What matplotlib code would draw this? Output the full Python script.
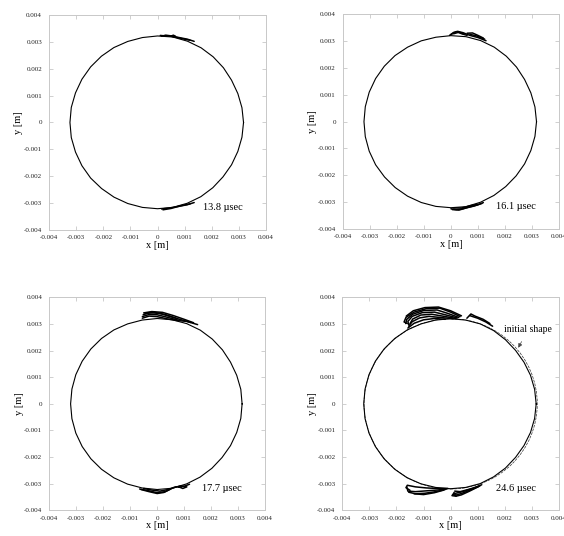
import numpy as np
import matplotlib.pyplot as plt
from matplotlib.patches import Circle

plt.rcParams['font.family'] = ['Liberation Serif', 'DejaVu Serif']

# Bubble outline: radius [mm] sampled every 10 degrees, counter-clockwise from +x
ANGLES_DEG = np.arange(0, 360, 10)

R_138 = [3.17, 3.16, 3.15, 3.15, 3.17, 3.19, 3.21, 3.22, 3.23, 3.22, 3.21, 3.21,
         3.22, 3.22, 3.22, 3.22, 3.22, 3.23, 3.23, 3.23, 3.22, 3.22, 3.22, 3.21,
         3.21, 3.21, 3.21, 3.21, 3.21, 3.20, 3.19, 3.17, 3.15, 3.15, 3.15, 3.16]
R_161 = [3.17, 3.16, 3.15, 3.15, 3.17, 3.19, 3.21, 3.22, 3.22, 3.21, 3.20, 3.21,
         3.21, 3.22, 3.22, 3.22, 3.22, 3.22, 3.22, 3.22, 3.22, 3.22, 3.21, 3.21,
         3.21, 3.21, 3.21, 3.21, 3.22, 3.20, 3.18, 3.16, 3.15, 3.15, 3.15, 3.16]
R_177 = [3.15, 3.15, 3.14, 3.14, 3.16, 3.18, 3.20, 3.21, 3.21, 3.21, 3.20, 3.20,
         3.21, 3.21, 3.21, 3.21, 3.21, 3.21, 3.21, 3.21, 3.21, 3.21, 3.21, 3.21,
         3.21, 3.21, 3.21, 3.22, 3.22, 3.20, 3.18, 3.16, 3.14, 3.14, 3.14, 3.15]
R_246 = [3.16, 3.15, 3.14, 3.13, 3.13, 3.15, 3.18, 3.20, 3.20, 3.20, 3.20, 3.20,
         3.21, 3.21, 3.21, 3.21, 3.21, 3.21, 3.21, 3.21, 3.21, 3.21, 3.21, 3.21,
         3.21, 3.20, 3.19, 3.19, 3.19, 3.19, 3.17, 3.15, 3.13, 3.13, 3.14, 3.15]

# Jet filaments near the poles: (x [mm], y [mm]) polylines
JETS_138 = [
    ([0.10, 0.30, 0.55, 0.85, 1.10, 1.35], [3.24, 3.22, 3.21, 3.15, 3.10, 3.02]),
    ([0.15, 0.30, 0.45, 0.60, 0.90, 1.20], [3.21, 3.25, 3.23, 3.19, 3.12, 3.06]),
    ([0.50, 0.58, 0.66, 0.60, 0.50], [3.21, 3.25, 3.21, 3.18, 3.21]),
    ([0.15, 0.45, 0.80, 1.10, 1.35], [-3.22, -3.18, -3.12, -3.06, -2.98]),
    ([0.20, 0.50, 0.85, 1.20], [-3.25, -3.20, -3.10, -3.03]),
]
JETS_161 = [
    ([-0.05, 0.10, 0.25, 0.45, 0.70, 1.00, 1.30], [3.22, 3.33, 3.37, 3.32, 3.22, 3.14, 3.02]),
    ([0.00, 0.20, 0.40, 0.60], [3.25, 3.36, 3.28, 3.22]),
    ([0.10, 0.30, 0.50], [3.28, 3.34, 3.26]),
    ([0.60, 0.80, 1.00, 1.20], [3.30, 3.31, 3.22, 3.12]),
    ([0.70, 0.95, 1.25], [3.26, 3.20, 3.08]),
    ([0.00, 0.20, 0.45, 0.70, 1.00, 1.20], [-3.25, -3.28, -3.25, -3.18, -3.10, -3.02]),
    ([0.05, 0.30, 0.55, 0.85, 1.15], [-3.28, -3.30, -3.22, -3.15, -3.05]),
    ([0.10, 0.40, 0.70, 1.00], [-3.22, -3.22, -3.14, -3.08]),
]
JETS_177 = [
    ([-0.50, -0.20, 0.20, 0.60, 1.00, 1.35], [3.42, 3.47, 3.44, 3.32, 3.18, 3.05]),
    ([-0.52, -0.30, 0.10, 0.50, 0.90, 1.25], [3.35, 3.43, 3.40, 3.28, 3.16, 3.06]),
    ([-0.55, -0.30, 0.00, 0.40, 0.80], [3.28, 3.36, 3.35, 3.25, 3.14]),
    ([-0.55, -0.30, 0.00, 0.35, 0.70, 1.10, 1.50], [3.22, 3.30, 3.28, 3.20, 3.14, 3.10, 2.98]),
    ([-0.45, -0.10, 0.30, 0.70], [3.39, 3.44, 3.36, 3.22]),
    ([-0.65, -0.30, 0.00, 0.30, 0.60, 0.90], [-3.20, -3.27, -3.34, -3.30, -3.15, -3.08]),
    ([-0.60, -0.30, 0.00, 0.25, 0.50], [-3.22, -3.30, -3.37, -3.33, -3.20]),
    ([-0.50, -0.20, 0.10, 0.40, 0.70, 1.00, 1.20], [-3.18, -3.24, -3.28, -3.22, -3.12, -3.10, -3.02]),
    ([0.80, 0.95, 1.10, 0.95, 0.80], [-3.12, -3.18, -3.12, -3.09, -3.12]),
]
JETS_246 = [
    ([0.35, 0.00, -0.40, -0.90, -1.35, -1.65, -1.72, -1.60],
     [3.28, 3.45, 3.60, 3.58, 3.45, 3.25, 3.08, 3.02]),
    ([0.30, -0.10, -0.50, -1.00, -1.40, -1.62, -1.66],
     [3.25, 3.40, 3.53, 3.51, 3.37, 3.18, 3.02]),
    ([0.25, -0.20, -0.60, -1.05, -1.42, -1.58, -1.55],
     [3.23, 3.35, 3.45, 3.43, 3.29, 3.10, 2.98]),
    ([0.20, -0.30, -0.70, -1.10, -1.40, -1.50],
     [3.21, 3.30, 3.37, 3.34, 3.19, 3.02]),
    ([0.10, -0.40, -0.80, -1.15, -1.42, -1.55],
     [3.20, 3.25, 3.29, 3.23, 3.09, 2.92]),
    ([-0.20, -0.60, -1.00, -1.35, -1.58],
     [3.18, 3.21, 3.16, 3.03, 2.85]),
    ([0.40, 0.00, -0.45, -0.95, -1.38, -1.64],
     [3.31, 3.50, 3.64, 3.62, 3.50, 3.30]),
    ([0.60, 0.75, 0.90, 1.20, 1.45], [3.22, 3.38, 3.30, 3.18, 3.02]),
    ([0.70, 1.00, 1.30, 1.55], [3.32, 3.22, 3.08, 2.92]),
    ([-0.10, -0.50, -0.90, -1.30, -1.60, -1.65, -1.50],
     [-3.18, -3.18, -3.16, -3.12, -3.06, -3.15, -3.25]),
    ([-0.15, -0.50, -0.90, -1.30, -1.58, -1.62],
     [-3.20, -3.24, -3.27, -3.30, -3.28, -3.12]),
    ([-0.20, -0.55, -0.95, -1.30, -1.55],
     [-3.22, -3.30, -3.36, -3.38, -3.32]),
    ([-0.25, -0.60, -1.00, -1.35], [-3.24, -3.34, -3.41, -3.38]),
    ([1.15, 0.80, 0.45, 0.10, 0.05, 0.20],
     [-3.04, -3.18, -3.30, -3.38, -3.45, -3.47]),
    ([1.10, 0.75, 0.40, 0.15, 0.10],
     [-3.07, -3.23, -3.37, -3.44, -3.40]),
    ([1.05, 0.70, 0.40, 0.20, 0.12],
     [-3.10, -3.28, -3.42, -3.47, -3.33]),
    ([1.00, 0.65, 0.35, 0.15], [-3.12, -3.22, -3.30, -3.28]),
]

TIMES = ['13.8 \u00b5sec', '16.1 \u00b5sec', '17.7 \u00b5sec', '24.6 \u00b5sec']
RADII = [R_138, R_161, R_177, R_246]
JETS = [JETS_138, JETS_161, JETS_177, JETS_246]
INITIAL_RADIUS_MM = 3.2

TICKS = [-0.004, -0.003, -0.002, -0.001, 0, 0.001, 0.002, 0.003, 0.004]
TICK_LABELS = ['-0.004', '-0.003', '-0.002', '-0.001', '0',
               '0.001', '0.002', '0.003', '0.004']

# axes rectangles in figure fractions: [left, bottom, width, height]
RECTS = [[0.0870, 0.571, 0.3847, 0.401],
         [0.6080, 0.573, 0.3830, 0.400],
         [0.0874, 0.048, 0.3825, 0.397],
         [0.6070, 0.048, 0.3840, 0.397]]

GRID_GREY = '#c8c8c8'

fig = plt.figure(figsize=(5.64, 5.36), dpi=100)

for rect, radii, jets, label in zip(RECTS, RADII, JETS, TIMES):
    ax = fig.add_axes(rect)
    th = np.deg2rad(np.append(ANGLES_DEG, 360))
    r = np.append(radii, radii[0]) * 1e-3
    ax.plot(r * np.cos(th), r * np.sin(th), color='black', lw=0.8)
    for xs, ys in jets:
        ax.plot(np.array(xs) * 1e-3, np.array(ys) * 1e-3, color='black',
                lw=1.1, solid_capstyle='round')

    ax.set_xlim(-0.004, 0.004)
    ax.set_ylim(-0.004, 0.004)
    ax.set_xticks(TICKS, TICK_LABELS)
    ax.set_yticks(TICKS, TICK_LABELS)
    ax.tick_params(direction='in', length=3, width=0.6, color=GRID_GREY,
                   labelsize=5, labelcolor='#222222', top=True, right=True)
    ax.tick_params(axis='y', pad=5)
    ax.tick_params(axis='x', pad=4)
    for s in ax.spines.values():
        s.set_color(GRID_GREY)
        s.set_linewidth(0.7)
    ax.set_xlabel('x [m]', fontsize=7.5)
    ax.set_ylabel('y [m]', fontsize=7.5)
    ax.xaxis.set_label_coords(0.5, -0.05)
    ax.yaxis.set_label_coords(-0.118, 0.5)
    ax.text(0.0024, -0.00318, label, fontsize=7.5, ha='center', va='center')

    if label.startswith('24.6'):
        ax.add_patch(Circle((0, 0), INITIAL_RADIUS_MM * 1e-3, fill=False,
                            ec='#333333', lw=0.5, ls=(0, (4, 1.5))))
        ax.annotate('initial shape', xy=(0.00250, 0.00211),
                    xytext=(0.00286, 0.00280), fontsize=7, ha='center', va='center',
                    arrowprops=dict(arrowstyle='-|>', color='#444444', lw=0.5,
                                    mutation_scale=6, shrinkA=4, shrinkB=0))

fig.savefig('out.png', dpi=100)
